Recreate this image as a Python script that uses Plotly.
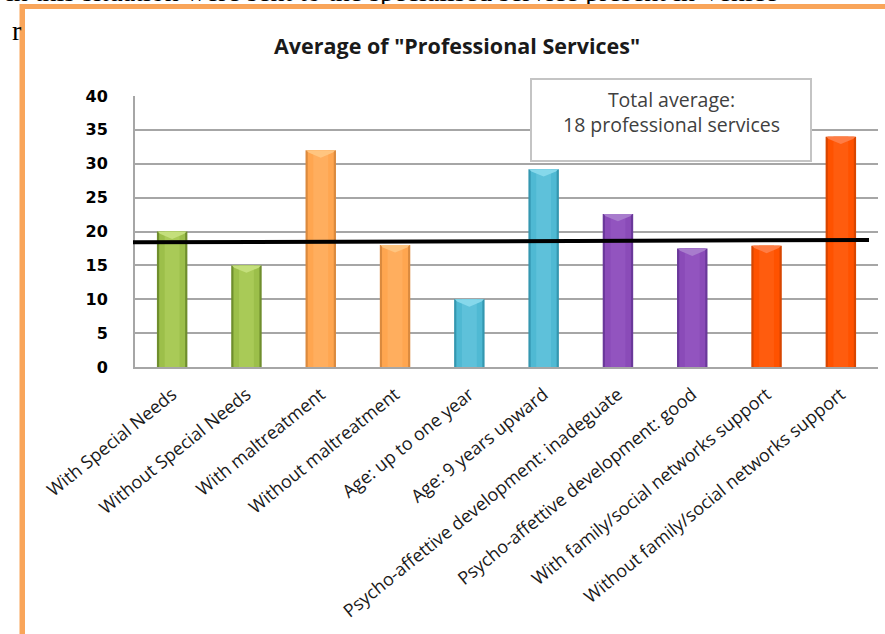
import plotly.graph_objects as go

categories = [
    "With Special Needs",
    "Without Special Needs",
    "With maltreatment",
    "Without maltreatment",
    "Age: up to one year",
    "Age: 9 years upward",
    "Psycho-affettive development: inadeguate",
    "Psycho-affettive development: good",
    "With family/social networks support",
    "Without family/social networks support",
]
values = [20, 15, 32, 18, 10, 29.2, 22.6, 17.5, 17.9, 34]
groups = [0, 0, 1, 1, 2, 2, 3, 3, 4, 4]
avg_line = [18.4, 18.75]  # left end, right end of the drawn average line
y_ticks = [0, 5, 10, 15, 20, 25, 30, 35, 40]
title_text = 'Average of "Professional Services"'
box_lines = ["Total average:", "18 professional services"]
doc_text_top = "in this situation were sent to the specialised service present in Venice"
doc_text_left = "r"

edge_cols = ["#6F8E2D", "#DB8A3E", "#3497B0", "#6A389A", "#D84600"]
main_cols = ["#9CBF4A", "#FFA650", "#4FB9D3", "#8A4BB8", "#FF5200"]
light_cols = ["#A9CA57", "#FFAE5E", "#5EC1DA", "#9254BF", "#FF5C0E"]
top_cols = ["#C4DF7C", "#FFC580", "#86D8EB", "#A87CCD", "#FF7D45"]

W, H = 885, 634
L, R, T, B = 135, 878, 96, 367
BAR_W = 0.41
CHEV = 1.1  # chevron depth in y units


def xp(px):
    return (px - L) / (R - L)


def yp(py):
    return (B - py) / (B - T)


fig = go.Figure()
fig.add_trace(go.Bar(x=categories, y=values, width=BAR_W,
                     marker=dict(color=[edge_cols[g] for g in groups], line=dict(width=0))))
fig.add_trace(go.Bar(x=categories, y=values, width=0.35,
                     marker=dict(color=[main_cols[g] for g in groups], line=dict(width=0))))
fig.add_trace(go.Bar(x=categories, y=values, width=0.2,
                     marker=dict(color=[light_cols[g] for g in groups], line=dict(width=0))))

shapes = []
for i, (v, g) in enumerate(zip(values, groups)):
    x0, x1 = i - BAR_W / 2 + 0.01, i + BAR_W / 2 - 0.01
    shapes.append(dict(type="path", xref="x", yref="y",
                       path=f"M {x0},{v} L {x1},{v} L {x1 - 0.03},{v - 0.35} L {i},{v - CHEV} "
                            f"L {x0 + 0.03},{v - 0.35} Z",
                       fillcolor=top_cols[g], line=dict(width=0), layer="above"))

shapes.append(dict(type="line", xref="paper", yref="y", x0=xp(133), x1=xp(869),
                   y0=avg_line[0], y1=avg_line[1], line=dict(color="black", width=4),
                   layer="above"))
# orange page border (left)
shapes.append(dict(type="rect", xref="paper", yref="paper", x0=xp(19.5), x1=xp(25),
                   y0=yp(4), y1=yp(640), fillcolor="#F9A55A", line=dict(width=0),
                   layer="above"))

annotations = [
    dict(text=doc_text_top, xref="paper", yref="paper", x=xp(4), y=yp(9),
         xanchor="left", yanchor="bottom", showarrow=False,
         font=dict(family="Liberation Serif", size=28, color="black")),
    dict(text=doc_text_left, xref="paper", yref="paper", x=xp(10), y=yp(48),
         xanchor="left", yanchor="bottom", showarrow=False,
         font=dict(family="Liberation Serif", size=28, color="black")),
    # white chart area covering document text
    dict(text=" ", xref="paper", yref="paper", x=xp(25), y=yp(8), xanchor="left", yanchor="top",
         width=W - 25, height=14, bgcolor="white", borderpad=0, borderwidth=0, showarrow=False),
    # orange top border
    dict(text=" ", xref="paper", yref="paper", x=xp(19.5), y=yp(3.5), xanchor="left",
         yanchor="top", width=W - 19, height=4.5, bgcolor="#F9A55A", borderpad=0,
         borderwidth=0, showarrow=False),
    dict(text="<b>" + title_text + "</b>", xref="paper", yref="paper",
         x=xp(457), y=yp(45), xanchor="center", yanchor="middle", showarrow=False,
         font=dict(family="Open Sans", size=21.5, color="#1a1a1a")),
    # text box frame
    dict(text=" ", xref="paper", yref="paper", x=xp(671), y=yp(120),
         xanchor="center", yanchor="middle", showarrow=False, width=278, height=80,
         bgcolor="white", bordercolor="#C4C4C4", borderwidth=2, borderpad=0),
    dict(text="<br>".join(box_lines), xref="paper", yref="paper", x=xp(671), y=yp(112),
         xanchor="center", yanchor="middle", showarrow=False, align="center",
         font=dict(family="Open Sans", size=19.5, color="#404040")),
]

fig.update_layout(
    width=W, height=H,
    margin=dict(l=L, r=W - R, t=T, b=H - B),
    paper_bgcolor="white", plot_bgcolor="white",
    barmode="overlay", showlegend=False, hovermode=False,
    annotations=annotations, shapes=shapes,
    xaxis=dict(tickangle=-39, showgrid=False, showline=True, linecolor="#A6A6A6",
               linewidth=2, ticks="", ticklabelstandoff=8,
               tickfont=dict(family="Open Sans", size=18, color="#1a1a1a")),
    yaxis=dict(range=[0, 40], tickvals=y_ticks, showgrid=True, gridcolor="#A6A6A6",
               gridwidth=1.6, showline=True, linecolor="#A6A6A6", linewidth=2,
               zeroline=False, ticks="", ticklabelstandoff=22,
               tickfont=dict(family="DejaVu Sans", size=16, color="black", weight="bold")),
)

fig.write_html("out.html", config={"displayModeBar": False},
               post_script="document.body.style.margin='0';"
                           "document.body.style.overflow='hidden';")
